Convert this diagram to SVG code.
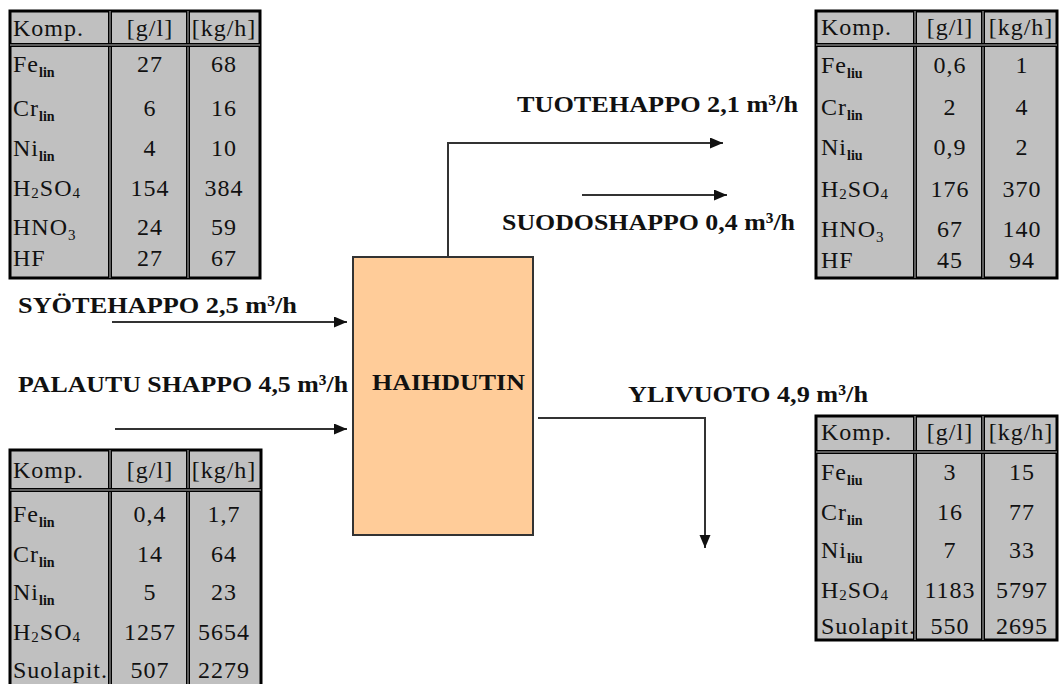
<svg xmlns="http://www.w3.org/2000/svg" width="1059" height="684" viewBox="0 0 1059 684">
<style>
.bg{fill:#c0c0c0;stroke:#000;stroke-width:3}
.dv{stroke:#000;stroke-width:4}
.gp{stroke:#b8b8b8;stroke-width:1}
.t{font-family:"Liberation Serif",serif;font-size:24px;letter-spacing:1px;fill:#111}
.c{text-anchor:middle}
.s{font-size:14px;font-weight:bold;letter-spacing:0}
.s2{font-size:15px}
.lbl{font-family:"Liberation Serif",serif;font-size:24px;font-weight:bold;fill:#111}
.ln{fill:none;stroke:#333;stroke-width:2}
</style>
<defs>
<marker id="ah" markerUnits="userSpaceOnUse" markerWidth="15" markerHeight="12" refX="13" refY="5.5" orient="auto">
<path d="M0,0 L13,5.5 L0,11 z" fill="#111"/>
</marker>
</defs>
<rect width="1059" height="684" fill="#fff"/>

<g id="connectors">
<path class="ln" d="M112,322 H347" marker-end="url(#ah)"/>
<path class="ln" d="M115,429 H347" marker-end="url(#ah)"/>
<path class="ln" d="M448,257 V143 H723" marker-end="url(#ah)"/>
<path class="ln" d="M582,195 H727" marker-end="url(#ah)"/>
<path class="ln" d="M538,418 H705 V548" marker-end="url(#ah)"/>
</g>

<g id="haihdutin">
<rect x="353" y="257" width="180" height="278" fill="#ffcc99" stroke="#333" stroke-width="2"/>
<text class="lbl" x="372" y="390" textLength="153" lengthAdjust="spacingAndGlyphs">HAIHDUTIN</text>
</g>

<g id="label-syote"><text class="lbl" x="18" y="313" textLength="279" lengthAdjust="spacingAndGlyphs">SYÖTEHAPPO 2,5 m³/h</text></g>
<g id="label-palautus"><text class="lbl" x="18" y="392" textLength="330" lengthAdjust="spacingAndGlyphs">PALAUTU SHAPPO 4,5 m³/h</text></g>
<g id="label-tuote"><text class="lbl" x="517" y="112" textLength="281" lengthAdjust="spacingAndGlyphs">TUOTEHAPPO 2,1 m³/h</text></g>
<g id="label-suodos"><text class="lbl" x="502" y="230" textLength="293" lengthAdjust="spacingAndGlyphs">SUODOSHAPPO 0,4 m³/h</text></g>
<g id="label-ylivuoto"><text class="lbl" x="628" y="402" textLength="240" lengthAdjust="spacingAndGlyphs">YLIVUOTO 4,9 m³/h</text></g>

<!-- Table 1: syötehappo -->
<g id="table-syote">
<rect class="bg" x="10" y="11" width="250" height="267"/>
<line class="dv" x1="110" y1="11" x2="110" y2="278"/><line class="gp" x1="110" y1="11" x2="110" y2="278"/>
<line class="dv" x1="188" y1="11" x2="188" y2="278"/><line class="gp" x1="188" y1="11" x2="188" y2="278"/>
<line class="dv" x1="10" y1="45" x2="260" y2="45"/><line class="gp" x1="10" y1="45" x2="260" y2="45"/>
<text class="t" x="13" y="36">Komp.</text><text class="t c" x="150" y="36">[g/l]</text><text class="t c" x="224" y="36" font-size="20" letter-spacing="0">[kg/h]</text>
<text class="t" x="13" y="72">Fe<tspan class="s" dy="5">lin</tspan></text><text class="t c" x="150" y="72">27</text><text class="t c" x="224" y="72">68</text>
<text class="t" x="13" y="116">Cr<tspan class="s" dy="5">lin</tspan></text><text class="t c" x="150" y="116">6</text><text class="t c" x="224" y="116">16</text>
<text class="t" x="13" y="156">Ni<tspan class="s" dy="5">lin</tspan></text><text class="t c" x="150" y="156">4</text><text class="t c" x="224" y="156">10</text>
<text class="t" x="13" y="196">H<tspan class="s2" dy="2">2</tspan><tspan dy="-2">SO</tspan><tspan class="s2" dy="2">4</tspan></text><text class="t c" x="150" y="196">154</text><text class="t c" x="224" y="196">384</text>
<text class="t" x="13" y="235">HNO<tspan class="s2" dy="5">3</tspan></text><text class="t c" x="150" y="235">24</text><text class="t c" x="224" y="235">59</text>
<text class="t" x="13" y="266">HF</text><text class="t c" x="150" y="266">27</text><text class="t c" x="224" y="266">67</text>
</g>

<!-- Table 2: tuotehappo -->
<g id="table-tuote">
<rect class="bg" x="816" y="11" width="241" height="267"/>
<line class="dv" x1="915" y1="11" x2="915" y2="278"/><line class="gp" x1="915" y1="11" x2="915" y2="278"/>
<line class="dv" x1="983" y1="11" x2="983" y2="278"/><line class="gp" x1="983" y1="11" x2="983" y2="278"/>
<line class="dv" x1="816" y1="45" x2="1057" y2="45"/><line class="gp" x1="816" y1="45" x2="1057" y2="45"/>
<text class="t" x="821" y="35">Komp.</text><text class="t c" x="950" y="35">[g/l]</text><text class="t c" x="1021" y="35" letter-spacing="0">[kg/h]</text>
<text class="t" x="821" y="73">Fe<tspan class="s" dy="5">liu</tspan></text><text class="t c" x="950" y="73">0,6</text><text class="t c" x="1022" y="73">1</text>
<text class="t" x="821" y="115">Cr<tspan class="s" dy="5">lin</tspan></text><text class="t c" x="950" y="115">2</text><text class="t c" x="1022" y="115">4</text>
<text class="t" x="821" y="155">Ni<tspan class="s" dy="5">liu</tspan></text><text class="t c" x="950" y="155">0,9</text><text class="t c" x="1022" y="155">2</text>
<text class="t" x="821" y="197">H<tspan class="s2" dy="2">2</tspan><tspan dy="-2">SO</tspan><tspan class="s2" dy="2">4</tspan></text><text class="t c" x="950" y="197">176</text><text class="t c" x="1022" y="197">370</text>
<text class="t" x="821" y="237">HNO<tspan class="s2" dy="5">3</tspan></text><text class="t c" x="950" y="237">67</text><text class="t c" x="1022" y="237">140</text>
<text class="t" x="821" y="268">HF</text><text class="t c" x="950" y="268">45</text><text class="t c" x="1022" y="268">94</text>
</g>

<!-- Table 3: palautushappo -->
<g id="table-palautus">
<rect class="bg" x="10" y="450" width="251" height="240"/>
<line class="dv" x1="110" y1="450" x2="110" y2="690"/><line class="gp" x1="110" y1="450" x2="110" y2="690"/>
<line class="dv" x1="188" y1="450" x2="188" y2="690"/><line class="gp" x1="188" y1="450" x2="188" y2="690"/>
<line class="dv" x1="10" y1="490" x2="261" y2="490"/><line class="gp" x1="10" y1="490" x2="261" y2="490"/>
<text class="t" x="13" y="478">Komp.</text><text class="t c" x="150" y="478">[g/l]</text><text class="t c" x="224" y="478" letter-spacing="0">[kg/h]</text>
<text class="t" x="13" y="522">Fe<tspan class="s" dy="5">lin</tspan></text><text class="t c" x="150" y="522">0,4</text><text class="t c" x="224" y="522">1,7</text>
<text class="t" x="13" y="562">Cr<tspan class="s" dy="5">lin</tspan></text><text class="t c" x="150" y="562">14</text><text class="t c" x="224" y="562">64</text>
<text class="t" x="13" y="600">Ni<tspan class="s" dy="5">lin</tspan></text><text class="t c" x="150" y="600">5</text><text class="t c" x="224" y="600">23</text>
<text class="t" x="13" y="640">H<tspan class="s2" dy="2">2</tspan><tspan dy="-2">SO</tspan><tspan class="s2" dy="2">4</tspan></text><text class="t c" x="150" y="640">1257</text><text class="t c" x="224" y="640">5654</text>
<text class="t" x="13" y="678">Suolapit.</text><text class="t c" x="150" y="678">507</text><text class="t c" x="224" y="678">2279</text>
</g>

<!-- Table 4: ylivuoto -->
<g id="table-ylivuoto">
<rect class="bg" x="816" y="416" width="241" height="224"/>
<line class="dv" x1="915" y1="416" x2="915" y2="640"/><line class="gp" x1="915" y1="416" x2="915" y2="640"/>
<line class="dv" x1="983" y1="416" x2="983" y2="640"/><line class="gp" x1="983" y1="416" x2="983" y2="640"/>
<line class="dv" x1="816" y1="452" x2="1057" y2="452"/><line class="gp" x1="816" y1="452" x2="1057" y2="452"/>
<text class="t" x="821" y="440">Komp.</text><text class="t c" x="950" y="440">[g/l]</text><text class="t c" x="1021" y="440" letter-spacing="0">[kg/h]</text>
<text class="t" x="821" y="480">Fe<tspan class="s" dy="5">liu</tspan></text><text class="t c" x="950" y="480">3</text><text class="t c" x="1022" y="480">15</text>
<text class="t" x="821" y="520">Cr<tspan class="s" dy="5">lin</tspan></text><text class="t c" x="950" y="520">16</text><text class="t c" x="1022" y="520">77</text>
<text class="t" x="821" y="558">Ni<tspan class="s" dy="5">liu</tspan></text><text class="t c" x="950" y="558">7</text><text class="t c" x="1022" y="558">33</text>
<text class="t" x="821" y="598">H<tspan class="s2" dy="2">2</tspan><tspan dy="-2">SO</tspan><tspan class="s2" dy="2">4</tspan></text><text class="t c" x="950" y="598">1183</text><text class="t c" x="1022" y="598">5797</text>
<text class="t" x="821" y="634">Suolapit.</text><text class="t c" x="950" y="634">550</text><text class="t c" x="1022" y="634">2695</text>
</g>
</svg>
